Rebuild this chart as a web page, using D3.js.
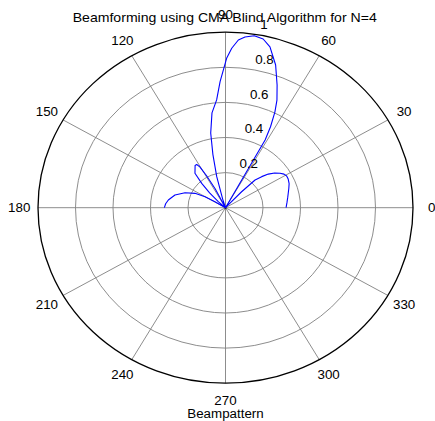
<!DOCTYPE html>
<html>
<head>
<meta charset="utf-8">
<script src="https://cdn.jsdelivr.net/npm/d3@7"></script>
<style>
  html, body { margin: 0; padding: 0; background: #ffffff; }
  svg { display: block; }
  text { font-family: Arial, "Liberation Sans", Helvetica, sans-serif; fill: #000; }
</style>
</head>
<body>
<svg id="chart" width="435" height="421"></svg>
<script>
// ---- labels ----
const titleText = "Beamforming using CMA Blind Algorithm for N=4";
const xLabelText = "Beampattern";
const angleTicks = [0, 30, 60, 90, 120, 150, 180, 210, 240, 270, 300, 330];
const spokeAngles = [0, 30, 60, 90, 120, 150];
const radialTicks = [0.2, 0.4, 0.6, 0.8, 1];
const radialMax = 1;

// ---- beam pattern: look angle (degrees) and normalised array response ----
const patternAngles = [
  0, 5, 10, 14, 18, 22, 26, 29, 31.5, 34, 37, 40, 42.5, 45, 46.6, 48.5,
  50, 61.3, 62.5, 64.2, 65.9, 68.5, 71.8, 75.5, 78.2, 81.1, 83.9, 85.9,
  87.9, 89.6, 92.3, 94.4, 97.6, 100.5, 102.5, 104.8, 107, 108.5,
  117, 119, 120.5, 122, 124, 127, 129.7, 132.4, 135, 138,
  144, 148.8, 150.1, 153.3, 158.4, 165, 171.8, 176, 180
];
const patternGains = [
  0.323, 0.329, 0.337, 0.345, 0.355, 0.366, 0.372, 0.373, 0.366, 0.351, 0.328, 0.298, 0.262, 0.223, 0.125, 0.02,
  0.0, 0.44, 0.52, 0.605, 0.672, 0.751, 0.856, 0.947, 0.982, 0.992, 0.978, 0.958,
  0.909, 0.851, 0.719, 0.616, 0.545, 0.433, 0.31, 0.183, 0.05, 0.0,
  0.12, 0.21, 0.27, 0.29, 0.29, 0.27, 0.255, 0.188, 0.12, 0.05,
  0.0, 0.066, 0.126, 0.182, 0.232, 0.279, 0.308, 0.32, 0.326
];

// ---- geometry ----
const svg = d3.select("#chart");
const cx = 225.5, cy = 207.7;
const rX = d3.scaleLinear().domain([0, radialMax]).range([0, 187.5]);
const rY = d3.scaleLinear().domain([0, radialMax]).range([0, 175.5]);
const toRad = d => d * Math.PI / 180;
const px = (a, r) => cx + rX(r) * Math.cos(toRad(a));
const py = (a, r) => cy - rY(r) * Math.sin(toRad(a));
const textStretch = 1.068;
const gridColor = "#808080";

// rings
svg.append("g").selectAll("ellipse")
  .data(radialTicks.filter(v => v < radialMax))
  .join("ellipse")
  .attr("cx", cx).attr("cy", cy)
  .attr("rx", d => rX(d)).attr("ry", d => rY(d))
  .attr("fill", "none").attr("stroke", gridColor).attr("stroke-width", 0.9);

// spokes
svg.append("g").selectAll("line")
  .data(spokeAngles)
  .join("line")
  .attr("x1", d => px(d, radialMax)).attr("y1", d => py(d, radialMax))
  .attr("x2", d => px(d + 180, radialMax)).attr("y2", d => py(d + 180, radialMax))
  .attr("stroke", gridColor).attr("stroke-width", 0.9);

// outer boundary
svg.append("ellipse")
  .attr("cx", cx).attr("cy", cy)
  .attr("rx", rX(radialMax)).attr("ry", rY(radialMax))
  .attr("fill", "none").attr("stroke", "#000").attr("stroke-width", 1.3);

// centre dot
svg.append("circle").attr("cx", cx).attr("cy", cy).attr("r", 1.2).attr("fill", "#222");

// beam pattern
const pattern = patternAngles.map((a, i) => ({ a, g: patternGains[i] }));
const line = d3.line()
  .x(d => px(d.a, d.g))
  .y(d => py(d.a, d.g))
  .curve(d3.curveLinear);
svg.append("path")
  .datum(pattern)
  .attr("d", line)
  .attr("fill", "none")
  .attr("stroke", "#0000ff")
  .attr("stroke-width", 1.1)
  .attr("stroke-linejoin", "round");

// angle labels
svg.append("g").selectAll("text")
  .data(angleTicks)
  .join("text")
  .attr("transform", d => `translate(${px(d, 1.1 * radialMax)},${py(d, 1.1 * radialMax)}) scale(${textStretch},1)`)
  .attr("text-anchor", "middle")
  .attr("dominant-baseline", "central")
  .attr("font-size", 12.5)
  .text(d => d);

// radial tick labels along the 82 degree direction
const c82 = Math.cos(toRad(82)), s82 = Math.sin(toRad(82));
const rinc = 0.2;
svg.append("g").selectAll("text")
  .data(radialTicks)
  .join("text")
  .attr("transform", d => `translate(${cx + rX((d + rinc / 20) * c82) + 8.5},${cy - rY((d + rinc / 20) * s82) - 3}) scale(${textStretch},1)`)
  .attr("text-anchor", "start")
  .attr("font-size", 12.5)
  .text(d => d3.format("~g")(d));

// title and axis label
svg.append("text")
  .attr("transform", `translate(224.7,21.6) scale(${textStretch},1)`)
  .attr("text-anchor", "middle")
  .attr("font-size", 13.2)
  .text(titleText);

svg.append("text")
  .attr("transform", `translate(225.5,418.3) scale(${textStretch},1)`)
  .attr("text-anchor", "middle")
  .attr("font-size", 12.5)
  .text(xLabelText);
</script>
</body>
</html>
